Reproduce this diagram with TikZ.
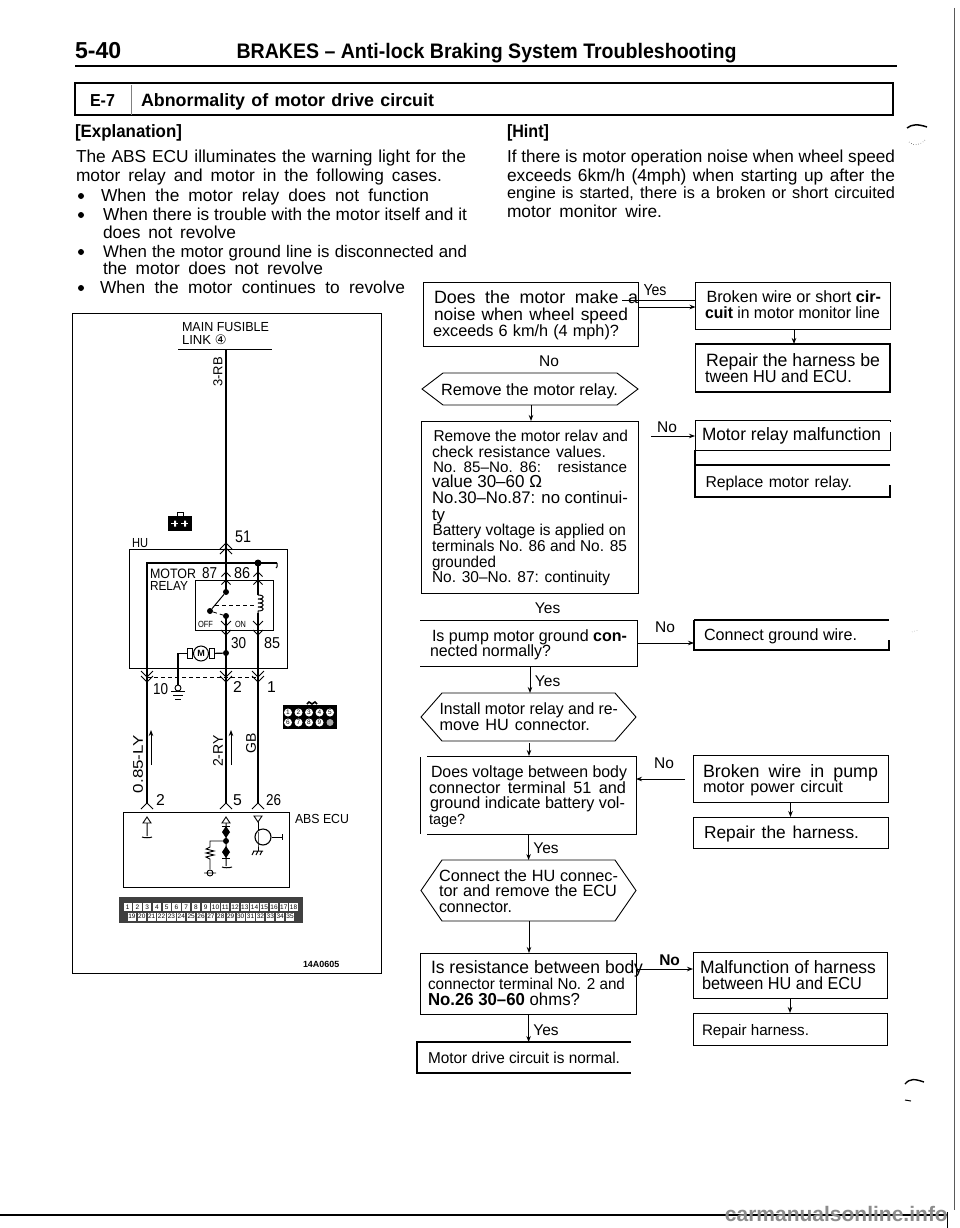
\documentclass[tikz,border=0pt]{standalone}
\usepackage{fontspec}
\usepackage{graphicx}
\setmainfont{Liberation Sans}
\newfontfamily\djv{DejaVu Sans}
\usetikzlibrary{arrows.meta,calc}
\newsavebox\tbx
\newcommand\fitline[2]{\sbox\tbx{#2}\ifdim#1pt=0pt\usebox\tbx\else\ifdim\wd\tbx>#1pt\resizebox{#1pt}{\ht\tbx}{\usebox\tbx}\else\makebox[#1pt][s]{#2}\fi\fi}
\newcommand\tx[6]{\node[anchor=base west,inner sep=0pt,outer sep=0pt] (#1) at (#2,#3) {\pgfmathsetmacro\fsz{#5*1.05}\fontsize{\fsz}{\fsz}\selectfont\fitline{#4}{#6}};}
\newcommand\bx[6][frame]{\node[#1,minimum width={(#5-#3)*1pt},minimum height={(#6-#4)*1pt}] (#2) at ({(#3+#5)/2},{(#4+#6)/2}) {};}
\newcommand\hexn[6]{\node[ghost,minimum width={(#4-#2)*1pt},minimum height={(#5-#3)*1pt}] (#1) at ({(#2+#4)/2},{(#3+#5)/2}) {};
 \draw[line width=.9pt] (#1.west) -- ($(#1.north west)+(#6,0)$) -- ($(#1.north east)+(-#6,0)$) -- (#1.east) -- ($(#1.south east)+(-#6,0)$) -- ($(#1.south west)+(#6,0)$) -- cycle;}
\newcommand\chu[3][6]{\draw[line width=1pt] (#2-#1,#3+#1) -- (#2,#3) -- (#2+#1,#3+#1);}
\newcommand\chd[3][6]{\draw[line width=1pt] (#2-#1,#3-#1) -- (#2,#3) -- (#2+#1,#3-#1);}
\tikzset{
 frame/.style={draw,line width=.9pt,inner sep=0pt,outer sep=0pt},
 heavy/.style={draw,line width=1.5pt,inner sep=0pt,outer sep=0pt},
 ghost/.style={inner sep=0pt,outer sep=0pt},
 flow/.style={line width=.9pt,-{Stealth[length=6pt,width=4.5pt]}},
 wire/.style={line width=1.2pt},
 dashw/.style={line width=.8pt,dash pattern=on 4pt off 3pt},
 lab/.style={inner sep=0pt,font=\fontsize{13}{13}\selectfont},
 dotb/.style={circle,fill=black,inner sep=0pt,minimum size=6pt},
 cell/.style={fill=white,inner sep=0pt,minimum width=8.2pt,minimum height=8pt,font=\fontsize{6.5}{6.5}\selectfont},
 cir/.style={circle,fill=white,inner sep=0pt,minimum size=8pt,font=\fontsize{6.5}{6.5}\selectfont}
}
\begin{document}
\begin{tikzpicture}[x=1pt,y=-1pt]
\useasboundingbox (0,0) rectangle (960,1228);
% header
\tx{ha}{75}{59}{50}{22}{\bfseries 5-40}
\tx{hb}{236.5}{59}{500}{20}{\bfseries BRAKES – Anti-lock Braking System Troubleshooting}
\coordinate (ruleL) at (75,66); \coordinate (ruleR) at (897,66);
\draw[line width=2.6pt] (ruleL) -- (ruleR);
\bx[heavy]{tb}{75}{83}{893}{115}
\coordinate (dv) at (131,85);
\draw[line width=.7pt,gray] (dv) -- (dv |- tb.south);
\tx{he}{90}{107}{25}{16.5}{\bfseries E-7}
\tx{hf}{141}{107}{293}{17}{\bfseries Abnormality of motor drive circuit}
% explanation
\tx{e0}{75}{137}{107}{17}{\bfseries [Explanation]}
\tx{e1}{76}{162}{390}{16.5}{The ABS ECU illuminates the warning light for the}
\tx{e2}{76}{181}{366}{16.5}{motor relay and motor in the following cases.}
\tx{e3}{101}{201}{328}{16.5}{When the motor relay does not function}
\tx{e4}{103}{220}{364}{16.5}{When there is trouble with the motor itself and it}
\tx{e5}{103}{238}{133}{16.5}{does not revolve}
\tx{e6}{103}{257}{364}{16}{When the motor ground line is disconnected and}
\tx{e7}{103}{274}{220}{16.5}{the motor does not revolve}
\tx{e8}{100}{293}{305}{16.5}{When the motor continues to revolve}
\node[dotb] (b3) at (81,196) {};
\node[dotb] (b4) at (81,215) {};
\node[dotb] (b6) at (81,252) {};
\node[dotb] (b8) at (81,288) {};
% hint
\tx{h0}{507}{137}{42}{17}{\bfseries [Hint]}
\tx{h1}{507}{162}{388}{16.5}{If there is motor operation noise when wheel speed}
\tx{h2}{507}{181}{388}{16.5}{exceeds 6km/h (4mph) when starting up after the}
\tx{h3}{507}{198}{388}{15.5}{engine is started, there is a broken or short circuited}
\tx{h4}{507}{217}{155}{16.5}{motor monitor wire.}
% flow boxes
\bx{q1}{423}{282}{638}{346}
\tx{q1a}{434}{303}{204}{17}{Does the motor make a}
\tx{q1b}{434}{320}{194}{16.5}{noise when wheel speed}
\tx{q1c}{433}{336}{186}{15.5}{exceeds 6 km/h (4 mph)?}
\bx{r1}{695.5}{282}{890}{329}
\tx{r1a}{706.5}{302}{174.5}{15.5}{Broken wire or short \textbf{cir-}}
\tx{r1b}{705}{318}{175}{15.5}{\textbf{cuit} in motor monitor line}
\bx[heavy]{r2}{695.5}{344}{890}{392}
\tx{r2a}{706}{366}{174}{17}{Repair the harness be}
\tx{r2b}{705}{382}{147}{16.5}{tween HU and ECU.}
\draw[flow] (r1.south -| 794,0) -- (r2.north -| 794,0);
\node[lab] (ly) at (655,290) {\fontsize{16}{16}\selectfont\resizebox{23pt}{\height}{Yes}};
\coordinate (l1) at (622,300); \coordinate (l2) at (695.5,307);
\draw[line width=.9pt] (l1) -- (l1 -| r1.west);
\draw[flow] (l2 -| q1.east) -- (l2);
\node[lab] (ln) at (549,361) {\fontsize{15.5}{15.5}\selectfont No};
\hexn{h1x}{422}{373}{638}{405}{21}
\tx{h1t}{441}{395}{177}{15.5}{Remove the motor relay.}
\bx{q2}{421.5}{421}{638}{593}
\draw[flow] (h1x.south -| 531,0) -- (q2.north -| 531,0);
\tx{q2a}{433.5}{441}{194.5}{15}{Remove the motor relav and}
\tx{q2b}{432}{457}{174}{15}{check resistance values.}
\tx{q2c}{433}{472}{194}{14.5}{No. 85–No. 86:\hspace{10pt} resistance}
\tx{q2d}{432}{487}{110}{16.5}{value 30–60 Ω}
\tx{q2e}{432}{503}{196}{16}{No.30–No.87: no continui-}
\tx{q2f}{432}{520}{0}{16}{ty}
\tx{q2g}{432.5}{535}{193.5}{15}{Battery voltage is applied on}
\tx{q2h}{432}{551}{195}{15}{terminals No. 86 and No. 85}
\tx{q2i}{432}{567}{64}{15}{grounded}
\tx{q2j}{432}{582}{178}{15}{No. 30–No. 87: continuity}
\bx{r3}{695}{420}{890}{450}
\node[fill=white,inner sep=0pt,minimum width=2pt,minimum height=10pt] (r3m) at (890,427) {};
\tx{r3a}{702}{440}{179}{17}{Motor relay malfunction}
\bx[ghost]{r4}{695}{465}{890}{497}
\draw[line width=1.2pt] (r4.north east) -- (r4.north west) -- (r4.south west) -- (r4.south east) -- ($(r4.south east)+(0,-12)$);
\coordinate (r3j) at (695,450);
\draw[line width=1.2pt] (r3j) -- (r4.north west);
\tx{r4a}{705.5}{487}{146.5}{15}{Replace motor relay.}
\node[lab] (ln2) at (667,427) {\fontsize{15.5}{15.5}\selectfont No};
\coordinate (l3) at (695,436); \coordinate (l3s) at (651,436);
\draw[flow] (l3s) -- (l3);
\node[lab] (ly2) at (547.6,608) {\fontsize{15.5}{15.5}\selectfont Yes};
\bx[ghost]{q3}{420}{620}{637}{666}
\draw[line width=.9pt] (q3.north west) -- (q3.north east) -- (q3.south east) -- (q3.south west);
\tx{q3a}{432}{641}{195}{15.5}{Is pump motor ground \textbf{con-}}
\tx{q3b}{430}{656}{121}{15.5}{nected normally?}
\bx[ghost]{r5}{694}{620}{889}{650}
\draw[line width=2.2pt] (r5.north west) -- (r5.north east);
\draw[line width=1.2pt] (r5.north west) -- (r5.south west) -- (r5.south east) -- ($(r5.south east)+(0,-10)$);
\tx{r5a}{704}{640}{153}{15.5}{Connect ground wire.}
\node[lab] (ln3) at (665,627) {\fontsize{15.5}{15.5}\selectfont No};
\draw[flow] (q3.east) -- (q3.east -| r5.west);
\node[lab] (ly3) at (547.6,681) {\fontsize{15.5}{15.5}\selectfont Yes};
\hexn{h2x}{421}{693}{636}{741}{21}
\tx{h2a}{439.5}{714}{178.5}{15.5}{Install motor relay and re-}
\tx{h2b}{439.5}{730}{150.5}{15.5}{move HU connector.}
\draw[flow] (q3.south -| 530,0) -- (h2x.north -| 530,0);
\bx[ghost]{q4}{427}{756}{636}{834}
\draw[line width=.9pt] (q4.north west) -- (q4.north east) -- (q4.south east) -- (q4.south west);
\coordinate (q4l) at (420,757);
\draw[line width=.9pt] (q4l) -- (q4l |- q4.south);
\tx{q4a}{431}{777}{196}{15.5}{Does voltage between body}
\tx{q4b}{429}{793}{197}{15.5}{connector terminal 51 and}
\tx{q4c}{430}{808}{195}{15.5}{ground indicate battery vol-}
\tx{q4d}{429}{824}{36}{14}{tage?}
\draw[flow] (h2x.south -| 529,0) ++(0,2) -- (q4.north -| 529,0);
\bx{r6}{693}{755}{888}{802}
\bx{r7}{693}{817}{888}{848}
\draw[flow] (r6.south -| 790.5,0) -- (r7.north -| 790.5,0);
\tx{r6a}{703}{777}{175}{17}{Broken wire in pump}
\tx{r6b}{703}{792}{140}{15.5}{motor power circuit}
\tx{r7a}{704}{838}{155}{16.5}{Repair the harness.}
\node[lab] (ln4) at (664,763) {\fontsize{15.5}{15.5}\selectfont No};
\coordinate (l4) at (685,779);
\draw[flow] (l4) -- (l4 -| q4.east);
\hexn{h3x}{421}{860}{636}{921}{21}
\tx{h3a}{439}{881}{179}{15.5}{Connect the HU connec-}
\tx{h3b}{439}{896}{178}{15.5}{tor and remove the ECU}
\tx{h3c}{439}{912}{73}{15.5}{connector.}
\draw[flow] (q4.south -| 528.6,0) -- (h3x.north -| 528.6,0);
\node[lab] (ly4) at (546,848) {\fontsize{15.5}{15.5}\selectfont Yes};
\bx{q5}{420}{953}{636}{1014}
\tx{q5a}{431}{973}{212}{17}{Is resistance between body}
\tx{q5b}{428}{989}{197}{15}{connector terminal No. 2 and}
\tx{q5c}{428}{1005}{152}{16.5}{\textbf{No.26 30–60} ohms?}
\draw[flow] (h3x.south -| 529,0) -- (q5.north -| 529,0);
\bx{r8}{693}{952}{887}{998}
\bx{r9}{693}{1013}{887}{1045}
\draw[flow] (r8.south -| 790,0) -- (r9.north -| 790,0);
\tx{r8a}{700}{973}{176}{17}{Malfunction of harness}
\tx{r8b}{702}{989}{160}{16.5}{between HU and ECU}
\tx{r9a}{702}{1035}{107}{14.5}{Repair harness.}
\node[lab] (ln5) at (669.6,960) {\fontsize{15.5}{15.5}\selectfont\bfseries No};
\coordinate (l5) at (693,969);
\draw[flow] (l5 -| q5.east) -- (l5);
\bx[ghost]{q6}{417}{1042}{631}{1073}
\draw[line width=1.3pt] (q6.north east) -- (q6.north west) -- (q6.south west) -- (q6.south east);
\tx{q6a}{428}{1063}{192}{15}{Motor drive circuit is normal.}
\draw[flow] (q5.south -| 528.6,0) -- (q6.north -| 528.6,0);
\node[lab] (ly5) at (546,1030) {\fontsize{15.5}{15.5}\selectfont Yes};
% wiring frame
\bx{wf}{72}{313}{381}{973}
\tx{w1}{182}{331}{87}{12.5}{MAIN FUSIBLE}
\tx{w2}{182}{344}{0}{12.5}{LINK {\djv ④}}
\coordinate (fuL) at (178,349); \coordinate (fuR) at (272,349);
\draw[line width=1pt] (fuL) -- (fuR);
\node[lab,rotate=90] (w3) at (218,372) {3-RB};
\node[fill=black,minimum width=24pt,minimum height=15pt,inner sep=0pt] (bag) at (180,523.5) {};
\draw[line width=1pt] ($(bag.north)+(-3,0)$) -- ++(0,-3) -- ++(6,0) -- ++(0,3);
\fill[white] ($(bag.center)+(-6,-3)$) rectangle ++(2,6) ($(bag.center)+(4,-3)$) rectangle ++(2,6);
\draw[white,line width=.6pt] ($(bag.center)+(-9,0)$) -- ++(7,0) ($(bag.center)+(1,0)$) -- ++(7,0);
\tx{w51}{235}{542}{16}{16}{51}
\tx{whu}{132}{547}{16}{12.5}{HU}
\bx{hu}{129}{549}{287}{668}
\bx{rl}{195}{580}{273}{630}
\coordinate (a0) at (226,349); \coordinate (a1) at (226,803);
\coordinate (c0) at (258,563); \coordinate (c1) at (258,803);
\coordinate (d0) at (147,563); \coordinate (d1) at (147,803);
\node[ghost] (top) at (277,563) {};
\draw[line width=1.4pt] (a0) -- (226,592);
\draw[line width=1.4pt] (226,616) -- (a1);
\draw[wire] (c0) -- (258,595) (258,613) -- (c1);
\draw[line width=1.8pt] (d1) -- (d0) -- (top.center);
\draw[line width=1pt] (top.center) .. controls (277,563) and (278,567) .. (276,568);
\node[dotb,minimum size=7pt] (dt) at (258,563) {};
\draw[line width=1pt] (258,595) .. controls (265,595) and (265,599) .. (258,599) .. controls (265,599) and (265,603) .. (258,603) .. controls (265,603) and (265,607) .. (258,607) .. controls (265,607) and (265,611) .. (258,611) -- (258,613);
\chu{226}{543} \chu{226}{548}
\chu[4.5]{226}{572} \chu[4.5]{226}{580} \chu[4.5]{258}{572} \chu[4.5]{258}{580}
\chd[5]{226}{626} \chd[5]{226}{635} \chd[5]{258}{626} \chd[5]{258}{635}
\chd[6]{147}{677} \chd[6]{147}{682} \chd[6]{226}{677} \chd[6]{226}{682} \chd[6]{258}{677} \chd[6]{258}{682}
\chu[6]{147}{803} \chu[6]{226}{803} \chu[6]{258}{803}
\tx{wm}{150}{578}{46}{13}{MOTOR}
\tx{wr}{150}{590}{38}{12.5}{RELAY}
\tx{w87}{202}{578}{15}{15}{87}
\tx{w86}{234}{578}{16}{15}{86}
\node[dotb] (s1) at (226,592) {};
\node[dotb] (s2) at (210,611) {};
\node[dotb] (s3) at (226,616) {};
\draw[line width=1pt] (s1) -- (s2);
\draw[dashw] (s2) -- (s3);
\coordinate (sd) at (215,605); \coordinate (cd) at (254,605);
\draw[dashw] (sd) -- (cd);
\tx{woff}{198}{627}{15}{8.5}{OFF}
\tx{won}{235}{627}{11}{8.5}{ON}
\tx{w30}{231}{648}{15}{15}{30}
\tx{w85}{264}{648}{16}{15}{85}
\node[dotb] (mj) at (226,653) {};
\node[circle,draw,line width=1pt,inner sep=0pt,minimum size=15pt,font=\fontsize{9}{9}\selectfont\bfseries] (mot) at (201,653.5) {M};
\node[draw,line width=1pt,inner sep=0pt,minimum width=5pt,minimum height=10pt] (ml) at (190,653.5) {};
\node[draw,line width=1pt,inner sep=0pt,minimum width=5pt,minimum height=10pt] (mr) at (212,653.5) {};
\coordinate (gt) at (178,685);
\draw[wire] (mj) -- (mr);
\draw[wire] (ml) -| (gt);
\draw[line width=.9pt] (178,688) circle (3);
\draw[line width=.9pt] (171,691) -- (185,691) (173,695) -- (183,695) (175,699) -- (181,699);
\coordinate (dl) at (147,677); \coordinate (dr) at (258,677);
\draw[dashw] (dl) -- (dr);
\tx{w10}{153}{694}{15}{15}{10}
\tx{w2b}{233}{692}{0}{15}{2}
\tx{w1b}{267}{692}{0}{15}{1}
% connector icon
\node[fill=black,minimum width=54pt,minimum height=24pt,inner sep=0pt] (ci) at (310,717) {};
\draw[line width=1.6pt] (307,704) -- (309,702) -- (312,704) -- (315,702) -- (317,704);
\foreach \n/\xx in {1/288,2/298.5,3/309,4/319.5,5/330}{\node[cir] (ca\n) at (\xx,712.5) {\n};}
\foreach \n/\xx in {6/288,7/298.5,8/309,9/319.5}{\node[cir] (cb\n) at (\xx,722.5) {\n};}
\node[circle,fill=gray!70,inner sep=0pt,minimum size=7pt] (cb0) at (330,722.5) {};
% wire labels
\node[lab,rotate=90,font=\fontsize{14}{14}\selectfont] (lw1) at (138,764) {\resizebox{58pt}{\height}{0.85-LY}};
\node[lab,rotate=90,font=\fontsize{14}{14}\selectfont] (lw2) at (218,751) {2-RY};
\node[lab,rotate=90,font=\fontsize{14}{14}\selectfont] (lw3) at (251,743) {GB};
\coordinate (u1a) at (151,765); \coordinate (u1b) at (151,730);
\coordinate (u2a) at (231,765); \coordinate (u2b) at (231,730);
\draw[flow] (u1a) -- (u1b);
\draw[flow] (u2a) -- (u2b);
\tx{wb2}{156}{805}{0}{15}{2}
\tx{wb5}{233}{805}{0}{15}{5}
\tx{wb26}{266}{805}{15}{15}{26}
% ECU
\bx{ecu}{123}{812}{289}{887}
\tx{wabs}{295}{823}{54}{12.5}{ABS ECU}
\draw[line width=.9pt] (147,817) -- (151,823) -- (143,823) -- cycle;
\draw[line width=1pt] (147,823) -- (147,836) (142,837) .. controls (144,838) and (150,838) .. (152,837);
\draw[line width=.9pt] (226,817) -- (230,823) -- (222,823) -- cycle;
\draw[line width=1pt] (226,823) -- (226,866) (222,867) .. controls (224,868) and (229,868) .. (232,867);
\fill (226,826) -- (230,832) -- (222,832) -- cycle;
\fill (226,838) -- (230,832) -- (222,832) -- cycle;
\fill (226,846) -- (230,852) -- (222,852) -- cycle;
\fill (226,858) -- (230,852) -- (222,852) -- cycle;
\draw[line width=1pt] (222,826) -- (230,826) (222,858) -- (230,858);
\node[dotb] (ed) at (226,841) {};
\draw[line width=.9pt] (ed) -- (210,841) -- (210,847) -- (206,849) -- (214,851) -- (206,853) -- (214,855) -- (206,857) -- (210,859) -- (210,869);
\draw[line width=.9pt] (210,873) circle (3) (204,873) -- (216,873);
\draw[line width=.9pt] (254,816) -- (262,816) -- (258,822) -- cycle;
\node[circle,draw,line width=1.1pt,inner sep=0pt,minimum size=16pt] (tr) at (263,837) {};
\draw[line width=1pt] (258,822) -- (258,830) (258,832) -- (258,843) -- (258,851);
\draw[line width=1pt] (tr.east) -- (282,837) (282,834) -- (282,840);
\draw[line width=1pt] (253,851) -- (263,851) (254,851) -- (252,855) (258,851) -- (256,855) (262,851) -- (260,855);
% strip
\node[fill=black!75,minimum width=184pt,minimum height=26pt,inner sep=0pt] (st) at (211,910) {};
\foreach \i in {1,...,18}{\pgfmathsetmacro\xc{118+4.9+(\i-.5)*9.75}\node[cell] (ta\i) at (\xc,907) {\i};}
\foreach \i in {19,...,35}{\pgfmathsetmacro\xc{127+(\i-18.5)*9.88}\node[cell] (tb\i) at (\xc,916.5) {\i};}
\tx{wcode}{303}{967}{42}{8.5}{\bfseries 14A0605}
% page edges
\coordinate (pr0) at (954,8); \coordinate (pr1) at (954,1210);
\draw[line width=1pt,gray!70!black] (pr0) -- (pr1);
\coordinate (pb0) at (0,1215); \coordinate (pb1) at (947,1215); \coordinate (pb2) at (947,1212); \coordinate (pb3) at (947,1228);
\draw[line width=1.4pt] (pb0) -- (pb1);
\draw[line width=1pt] (pb2) -- (pb3);
\node[anchor=base east,inner sep=0pt,text=black!45,font=\fontsize{21}{21}\selectfont\bfseries] (wm) at (948,1221) {carmanualsonline.info};
% specks
\draw[line width=1.5pt] (907,128) .. controls (912,124) and (918,124) .. (927,127);
\draw[line width=.5pt,dotted] (909,142) .. controls (914,146) and (920,146) .. (926,139);
\draw[line width=1.4pt] (905,1084) .. controls (910,1078) and (915,1079) .. (924,1082);
\draw[line width=1pt] (905,1100) -- (911,1101);
\draw[line width=.5pt,dotted,gray] (912,632) -- (918,630);
\end{tikzpicture}
\end{document}
